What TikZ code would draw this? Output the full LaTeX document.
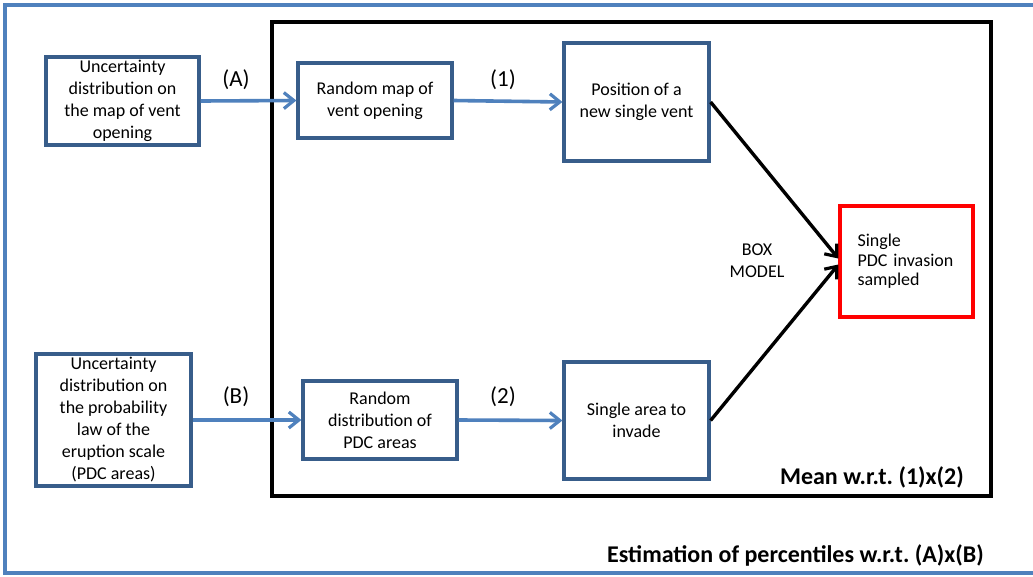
\documentclass[tikz,border=0pt]{standalone}
\usepackage{fontspec}
\setmainfont{Carlito}
\usetikzlibrary{arrows.meta}
\definecolor{boxblue}{HTML}{385D8A}
\definecolor{lineblue}{HTML}{4F81BD}
\frenchspacing
\begin{document}
\begin{tikzpicture}[x=1pt,y=-1pt,
  bbox/.style={draw=boxblue, line width=3.2pt, align=center, inner sep=0pt, font=\fontsize{18}{22}\selectfont},
  flow/.style={draw=lineblue, line width=3.6pt, -{Straight Barb[length=10pt,width=16pt,line width=3.2pt]}},
  model/.style={draw=black, line width=3.4pt, -{Straight Barb[length=10pt,width=16pt,line width=3.2pt]}},
  lab/.style={font=\fontsize{23}{27}\selectfont, inner sep=0pt},
  big/.style={font=\fontsize{24}{28}\selectfont\bfseries, inner sep=0pt}]
\useasboundingbox (0,0) rectangle (1033,576);
\fill[white] (0,0) rectangle (1033,576);
\draw[lineblue, line width=3.6pt] (1040,5) -- (5,5) -- (5,573) -- (1040,573);
\node[draw=black, line width=3.6pt, minimum width=719pt, minimum height=474pt, inner sep=0pt] (inner) at (631.5,259) {};
\node[bbox, minimum width=153pt, minimum height=88pt] (a1) at (122.5,101) {Uncertainty\\distribution on\\the map of vent\\opening};
\node[bbox, minimum width=154pt, minimum height=75pt] (rm) at (375,100.5) {Random map of\\vent opening};
\node[bbox, minimum width=145pt, minimum height=118pt] (pos) at (636.5,102) {Position of a\\new single vent};
\node[bbox, minimum width=155pt, minimum height=132pt] (b1) at (113.5,420) {Uncertainty\\distribution on\\the probability\\law of the\\eruption scale\\(PDC areas)};
\node[bbox, minimum width=154pt, minimum height=78pt] (rd) at (380,420) {Random\\distribution of\\PDC areas};
\node[bbox, minimum width=145pt, minimum height=117pt] (sa) at (636.5,420.5) {Single area to\\invade};
\node[bbox, draw=red, minimum width=133pt, minimum height=111pt, align=left, text width=98pt, font=\fontsize{18}{19.5}\selectfont] (red) at (906.5,261.5) {Single\\PDC invasion\\sampled};
\node[lab] (la) at (236,80) {(A)};
\node[lab] (l1) at (503,80) {(1)};
\node[lab] (lb) at (236,397) {(B)};
\node[lab] (l2) at (503,397) {(2)};
\node[align=center, inner sep=0pt, font=\fontsize{18}{22}\selectfont] (bm) at (757,261) {BOX\\MODEL};
\node[big, anchor=east] (mean) at (964,477) {Mean w.r.t. (1)x(2)};
\node[big, anchor=east] (est) at (984,555) {Estimation of percentiles w.r.t. (A)x(B)};
\draw[flow] (a1.east) -- (rm.west);
\draw[flow] (rm.east) -- (pos.west);
\draw[flow] (b1.east) -- (rd.west);
\draw[flow] (rd.east) -- (sa.west);
\draw[model] (pos.east) -- ([yshift=3pt]red.west);
\draw[model] (sa.east) -- ([yshift=-3pt]red.west);
\end{tikzpicture}
\end{document}
